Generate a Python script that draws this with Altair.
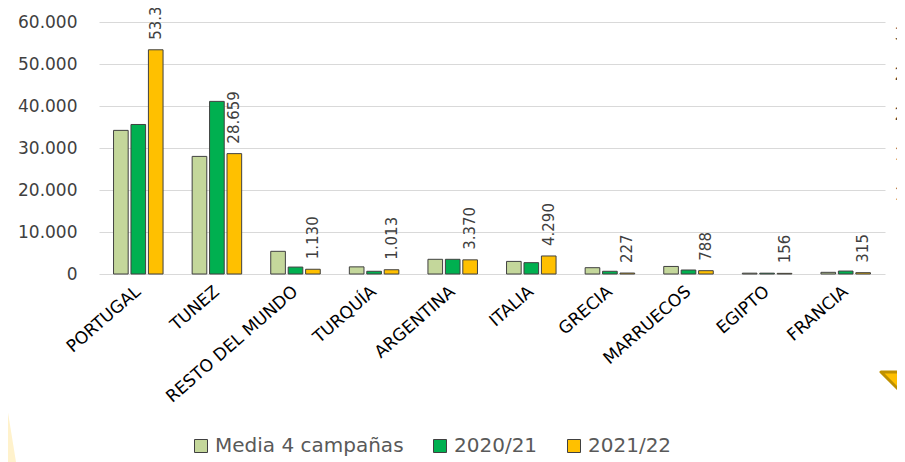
import altair as alt
import pandas as pd

categories = ["PORTUGAL", "TUNEZ", "RESTO DEL MUNDO", "TURQUÍA", "ARGENTINA",
              "ITALIA", "GRECIA", "MARRUECOS", "EGIPTO", "FRANCIA"]
series = ["Media 4 campañas", "2020/21", "2021/22"]
media_4 = [34200, 28000, 5400, 1700, 3500, 3000, 1500, 1800, 200, 400]
camp_2020_21 = [35600, 41100, 1650, 650, 3500, 2700, 650, 950, 200, 700]
camp_2021_22 = [53385, 28659, 1130, 1013, 3370, 4290, 227, 788, 156, 315]
y_ticks = [0, 10000, 20000, 30000, 40000, 50000, 60000]
right_ticks = [10, 15, 20, 25, 30]
colors = ["#C4D79B", "#00B050", "#FFC000"]

rows = []
for s, vals in zip(series, [media_4, camp_2020_21, camp_2021_22]):
    for c, v in zip(categories, vals):
        rows.append({"pais": c, "serie": s, "valor": v,
                     "etiqueta": f"{v:,}".replace(",", ".")})
df = pd.DataFrame(rows)

FONT = "DejaVu Sans"

x_enc = alt.X("pais:N", sort=categories,
              scale=alt.Scale(paddingInner=0.37, paddingOuter=0.185),
              axis=alt.Axis(title=None, labelAngle=-41, labelAlign="right",
                            labelBaseline="middle", labelFont=FONT, labelFontSize=17,
                            labelColor="#000000", labelPadding=15, ticks=False,
                            tickSize=0, domain=False, labelLimit=400))
xoff_enc = alt.XOffset("serie:N", sort=series,
                       scale=alt.Scale(domain=series, paddingInner=0.16, paddingOuter=0))
y_scale = alt.Scale(domain=[0, 60000], nice=False)

base = alt.Chart(df)

bars = base.mark_bar(stroke="#404040", strokeWidth=1).encode(
    x=x_enc,
    xOffset=xoff_enc,
    y=alt.Y("valor:Q", scale=y_scale,
            axis=alt.Axis(title=None, values=y_ticks,
                          labelExpr="replace(format(datum.value, ','), ',', '.')",
                          grid=True, gridColor="#D9D9D9", gridWidth=1, domain=False,
                          ticks=False, tickSize=0, labelPadding=22, labelFont=FONT,
                          labelFontSize=17, labelColor="#404040")),
    color=alt.Color("serie:N", sort=series,
                    scale=alt.Scale(domain=series, range=colors),
                    legend=alt.Legend(title=None, orient="none", legendX=92, legendY=414,
                                      direction="horizontal", symbolType="square",
                                      symbolSize=169, symbolStrokeColor="#404040",
                                      symbolStrokeWidth=1, labelFont=FONT,
                                      labelFontSize=20, labelColor="#595959",
                                      columnPadding=26, labelOffset=4, labelLimit=400)),
)

labels = base.transform_filter(alt.datum.serie == "2021/22").mark_text(
    angle=270, align="left", baseline="middle", dx=10, font=FONT, fontSize=15,
    color="#404040"
).encode(
    x=x_enc,
    xOffset=xoff_enc,
    y=alt.Y("valor:Q", scale=y_scale, axis=None),
    text="etiqueta:N",
)

right_axis = alt.Chart(pd.DataFrame({"v": right_ticks})).mark_point(opacity=0).encode(
    y=alt.Y("v:Q", scale=alt.Scale(domain=[0, 31.5], nice=False),
            axis=alt.Axis(orient="right", values=right_ticks, title=None, grid=False,
                          domain=False, ticks=False, tickSize=0, labelAlign="left",
                          labelPadding=9, labelFont=FONT, labelFontSize=17,
                          labelColor="#404040"))
)

deco_df = pd.DataFrame({"a": [0]})
triangle = alt.Chart(deco_df).mark_point(
    shape="M0,0 L40,0 L40,40 Z", size=4, filled=True, fill="#FFC000",
    stroke="#BF9000", strokeWidth=3, opacity=1, strokeJoin="round"
).encode(x=alt.value(782), y=alt.value(350))

wedge = alt.Chart(deco_df).mark_point(
    shape="M0,0 L16,99 L16,115 L-20,115 L-20,0 Z", size=4, filled=True,
    fill="#FFF2CC", strokeWidth=0, opacity=1
).encode(x=alt.value(-99), y=alt.value(341))

chart = alt.layer(wedge, triangle, bars, labels, right_axis).resolve_scale(
    y="independent"
).properties(
    width=786, height=252,
    padding={"left": 91, "top": 14, "right": 12, "bottom": 188},
    autosize=alt.AutoSizeParams(type="none"),
    background="white",
).configure_view(stroke=None)

chart.save("out.html", embed_options={"renderer": "svg", "actions": False})
